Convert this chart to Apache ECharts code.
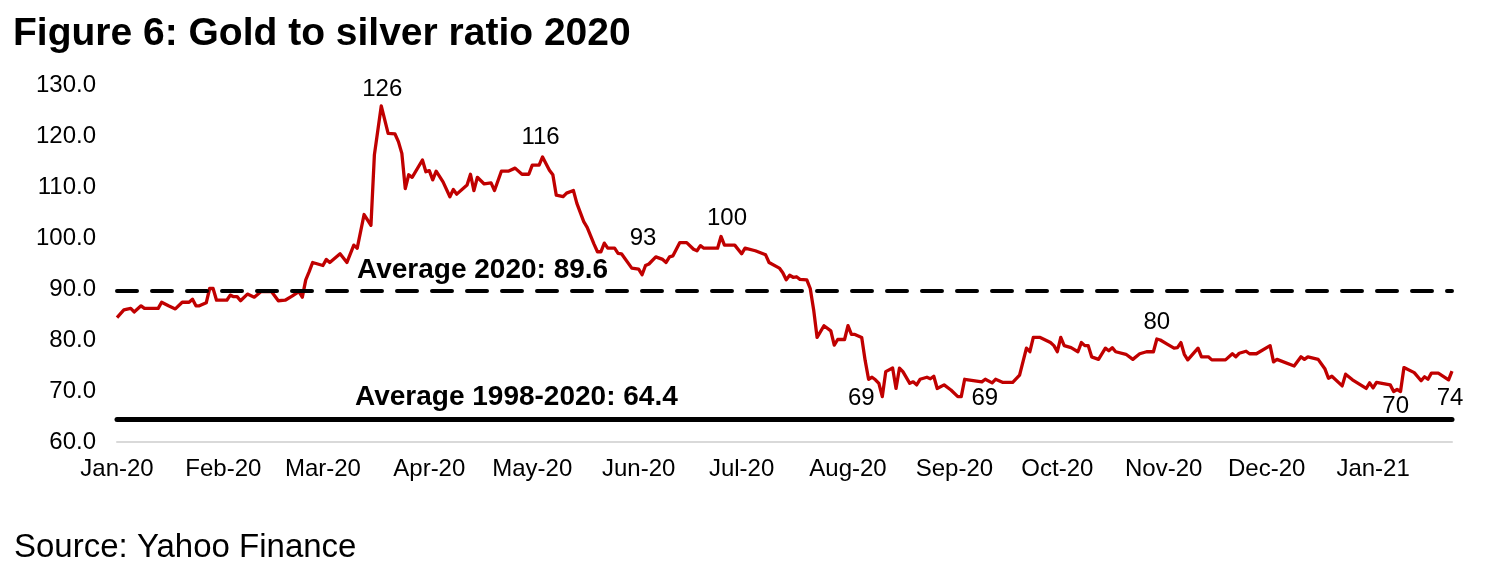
<!DOCTYPE html>
<html>
<head>
<meta charset="utf-8">
<script src="https://cdn.jsdelivr.net/npm/echarts@6/dist/echarts.min.js"></script>
<style>
html,body{margin:0;padding:0;background:#fff;}
#chart{width:1495px;height:581px;}
</style>
</head>
<body>
<div id="chart"></div>
<script>
// ---- data ----
const dates = [
'2020-01-01','2020-01-03','2020-01-05','2020-01-06','2020-01-08','2020-01-09','2020-01-13','2020-01-14','2020-01-16','2020-01-18',
'2020-01-20','2020-01-22','2020-01-23','2020-01-24','2020-01-25','2020-01-27','2020-01-28','2020-01-29','2020-01-30','2020-02-02',
'2020-02-03','2020-02-04','2020-02-05','2020-02-06','2020-02-08','2020-02-10','2020-02-12','2020-02-15','2020-02-17','2020-02-19',
'2020-02-21','2020-02-23','2020-02-24','2020-02-25','2020-02-26','2020-02-27','2020-03-01','2020-03-02','2020-03-03','2020-03-06',
'2020-03-08','2020-03-10','2020-03-11','2020-03-13','2020-03-15','2020-03-16','2020-03-18','2020-03-20','2020-03-22','2020-03-23',
'2020-03-24','2020-03-25','2020-03-26','2020-03-27','2020-03-30','2020-03-31','2020-04-01','2020-04-02','2020-04-03','2020-04-05',
'2020-04-07','2020-04-08','2020-04-09','2020-04-12','2020-04-13','2020-04-14','2020-04-15','2020-04-17','2020-04-19','2020-04-20',
'2020-04-22','2020-04-24','2020-04-26','2020-04-28','2020-04-30','2020-05-01','2020-05-03','2020-05-04','2020-05-06','2020-05-07',
'2020-05-08','2020-05-10','2020-05-11','2020-05-13','2020-05-14','2020-05-16','2020-05-17','2020-05-19','2020-05-20','2020-05-21',
'2020-05-22','2020-05-23','2020-05-25','2020-05-26','2020-05-27','2020-05-30','2020-06-01','2020-06-02','2020-06-03','2020-06-04',
'2020-06-06','2020-06-08','2020-06-09','2020-06-10','2020-06-11','2020-06-13','2020-06-15','2020-06-17','2020-06-18','2020-06-19',
'2020-06-20','2020-06-24','2020-06-25','2020-06-26','2020-06-29','2020-07-01','2020-07-02','2020-07-05','2020-07-08','2020-07-09',
'2020-07-12','2020-07-13','2020-07-14','2020-07-15','2020-07-16','2020-07-17','2020-07-18','2020-07-20','2020-07-21','2020-07-22',
'2020-07-23','2020-07-25','2020-07-27','2020-07-28','2020-07-29','2020-07-31','2020-08-01','2020-08-02','2020-08-03','2020-08-05',
'2020-08-06','2020-08-07','2020-08-08','2020-08-09','2020-08-10','2020-08-11','2020-08-12','2020-08-14','2020-08-15','2020-08-16',
'2020-08-17','2020-08-19','2020-08-20','2020-08-21','2020-08-22','2020-08-24','2020-08-25','2020-08-26','2020-08-27','2020-08-29',
'2020-08-31','2020-09-02','2020-09-03','2020-09-04','2020-09-09','2020-09-10','2020-09-12','2020-09-13','2020-09-15','2020-09-18',
'2020-09-20','2020-09-22','2020-09-23','2020-09-24','2020-09-26','2020-09-29','2020-09-30','2020-10-01','2020-10-02','2020-10-03',
'2020-10-05','2020-10-07','2020-10-08','2020-10-09','2020-10-10','2020-10-11','2020-10-13','2020-10-15','2020-10-16','2020-10-17',
'2020-10-18','2020-10-21','2020-10-23','2020-10-25','2020-10-27','2020-10-29','2020-10-30','2020-10-31','2020-11-02','2020-11-04',
'2020-11-05','2020-11-06','2020-11-07','2020-11-08','2020-11-11','2020-11-12','2020-11-14','2020-11-15','2020-11-19','2020-11-21',
'2020-11-22','2020-11-23','2020-11-25','2020-11-26','2020-11-28','2020-12-02','2020-12-03','2020-12-04','2020-12-09','2020-12-11',
'2020-12-12','2020-12-13','2020-12-16','2020-12-18','2020-12-19','2020-12-20','2020-12-23','2020-12-24','2020-12-26','2020-12-30',
'2020-12-31','2021-01-01','2021-01-02','2021-01-06','2021-01-07','2021-01-08','2021-01-09','2021-01-10','2021-01-13','2021-01-15',
'2021-01-16','2021-01-17','2021-01-18','2021-01-20','2021-01-23','2021-01-24'
];
const ratio = [
84.4,85.9,86.2,85.5,86.7,86.2,86.2,87.4,86.7,86.1,
87.4,87.4,88.0,86.7,86.7,87.3,90.1,90.1,87.8,87.8,
88.8,88.5,88.5,87.7,89.0,88.4,89.5,89.5,87.7,87.8,
88.6,89.5,88.4,91.8,93.4,95.2,94.6,95.8,95.2,96.9,
95.2,98.6,98.0,104.6,102.5,116.3,125.9,120.5,120.4,118.9,
116.6,109.7,112.4,111.9,115.3,113.0,113.2,111.4,113.1,111.0,
108.1,109.5,108.6,110.4,112.5,109.3,111.9,110.6,110.8,109.3,
113.1,113.1,113.7,112.5,112.5,114.3,114.3,115.9,113.3,112.4,
108.4,108.1,108.8,109.3,106.8,103.2,102.1,98.8,97.3,97.3,
99.0,98.0,98.0,97.0,96.9,94.1,93.9,92.8,94.6,94.9,
96.3,95.8,95.2,96.3,96.5,99.1,99.1,97.8,97.5,98.5,
98.0,98.0,100.3,98.6,98.6,96.9,98.0,97.5,96.7,95.2,
94.1,93.2,91.8,92.7,92.3,92.4,91.9,91.8,90.1,85.9,
80.5,82.8,81.8,79.0,80.1,80.1,82.8,81.1,81.1,80.5,
76.0,72.3,72.7,72.2,71.5,68.9,73.8,74.5,70.5,74.5,
73.8,71.5,71.8,71.2,72.3,72.7,72.4,72.9,70.5,71.2,
70.2,68.9,68.9,72.3,71.8,72.3,71.6,72.3,71.7,71.7,
73.1,78.4,77.7,80.5,80.5,79.5,78.9,77.7,80.5,78.9,
78.5,77.7,79.5,78.9,78.9,76.7,76.2,78.4,77.9,78.5,
77.7,77.2,76.2,77.3,77.7,77.7,80.2,80.0,79.2,78.4,
78.5,79.5,77.2,76.1,78.4,76.7,76.7,76.1,76.1,77.3,
76.7,77.4,77.8,77.3,77.3,78.9,75.7,76.2,74.9,76.7,
76.2,76.7,76.2,74.3,72.5,72.9,71.0,73.3,72.2,70.5,
71.6,70.6,71.7,71.2,69.9,70.3,69.9,74.6,73.6,72.0,
72.8,72.3,73.5,73.5,72.2,73.9
];
const monthTicks = ['2020-01-01','2020-02-01','2020-03-01','2020-04-01','2020-05-01','2020-06-01','2020-07-01',
  '2020-08-01','2020-09-01','2020-10-01','2020-11-01','2020-12-01','2021-01-01'];
const monthLabels = ['Jan-20','Feb-20','Mar-20','Apr-20','May-20','Jun-20','Jul-20','Aug-20','Sep-20','Oct-20','Nov-20','Dec-20','Jan-21'];
const xMin = '2020-01-01';
const xMax = '2021-01-24';
const yTicks = [60,70,80,90,100,110,120,130];
const averageValues = [89.6, 64.4];
const averageNames = ['Average 2020', 'Average 1998-2020'];
const annotDates = ['2020-03-18','2020-05-04','2020-06-02','2020-06-25','2020-08-11','2020-09-02','2020-10-30','2021-01-07','2021-01-24'];
const annotTexts = ['126','116','93','100','69','69','80','70','74'];

// ---- presentation ----
const FONT = 'Liberation Sans, Arial, sans-serif';
const annotOffsets = [[1,-17],[-2,-20],[1,-36],[6,-18],[-21,2],[27,2],[0,-17],[2,15],[-2,27]];
const avgLabelPos = [[357,270],[355,397]];

function ts(d) { const p = d.split('-').map(Number); return Date.UTC(p[0], p[1]-1, p[2]); }

const chart = echarts.init(document.getElementById('chart'), null, {renderer:'canvas'});
const tickTimes = monthTicks.map(ts);
const seriesData = dates.map((d,i) => [ts(d), ratio[i]]);

const markPts = annotDates.map((d,i) => ({
  coord: [ts(d), ratio[dates.indexOf(d)]],
  symbol: 'circle', symbolSize: 1,
  itemStyle: {color: 'rgba(0,0,0,0)'},
  label: {show: true, position: 'inside', formatter: annotTexts[i], offset: annotOffsets[i],
    color: '#000', fontSize: 24, fontFamily: FONT}
}));

const option = {
  animation: false,
  backgroundColor: '#fff',
  grid: {left: 117, right: 43, top: 85, bottom: 139},
  xAxis: {
    type: 'value', min: ts(xMin), max: ts(xMax),
    axisLine: {show: true, lineStyle: {color: '#d9d9d9', width: 2}},
    axisTick: {show: false},
    splitLine: {show: false},
    axisLabel: {
      customValues: tickTimes,
      showMinLabel: true, showMaxLabel: true, hideOverlap: false,
      margin: 15, fontSize: 24, color: '#000', fontFamily: FONT,
      formatter: function (v) {
        let best = 0, bd = Infinity;
        tickTimes.forEach((t,i) => { const dd = Math.abs(t - v); if (dd < bd) { bd = dd; best = i; } });
        return monthLabels[best];
      }
    }
  },
  yAxis: {
    type: 'value', min: yTicks[0], max: yTicks[yTicks.length-1], interval: 10,
    axisLine: {show: false}, axisTick: {show: false}, splitLine: {show: false},
    axisLabel: {margin: 21, fontSize: 24, color: '#000', fontFamily: FONT,
      formatter: v => v.toFixed(1)}
  },
  series: [
    {
      type: 'line', data: [], silent: true, z: 1,
      markLine: {
        silent: true, symbol: ['none','none'], label: {show: false},
        data: [
          {yAxis: averageValues[0], lineStyle: {color: '#000', width: 4, type: [20,15], cap: 'round'}},
          {yAxis: averageValues[1], lineStyle: {color: '#000', width: 5, type: 'solid', cap: 'round'}}
        ]
      }
    },
    {
      type: 'line', data: seriesData, showSymbol: false, z: 3,
      lineStyle: {color: '#C00000', width: 3.3, join: 'round'},
      itemStyle: {color: '#C00000'},
      markPoint: {silent: true, data: markPts}
    }
  ],
  graphic: [
    {type: 'text', left: 13, top: 15, style: {text: 'Figure 6: Gold to silver ratio 2020', font: 'bold 39px ' + FONT, fill: '#000'}},
    {type: 'text', left: 14, top: 531, style: {text: 'Source: Yahoo Finance', font: '33px ' + FONT, fill: '#000'}}
  ].concat(averageValues.map((v,i) => ({
    type: 'text', x: avgLabelPos[i][0], y: avgLabelPos[i][1], z: 10,
    style: {text: averageNames[i] + ': ' + v.toFixed(1), font: 'bold 28px ' + FONT, fill: '#000',
      textAlign: 'left', textVerticalAlign: 'middle'}
  })))
};
chart.setOption(option);
</script>
</body>
</html>
